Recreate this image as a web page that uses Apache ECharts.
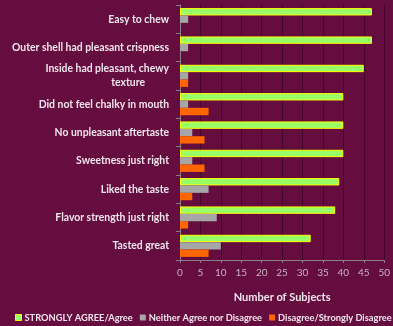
<!DOCTYPE html>
<html><head><meta charset="utf-8">
<script src="https://cdn.jsdelivr.net/npm/echarts@6/dist/echarts.min.js"></script>
<style>html,body{margin:0;padding:0;background:#650D3F;}#c{width:393px;height:326px;}</style>
</head><body><div id="c"></div>
<script>
const categories = ["Easy to chew","Outer shell had pleasant crispness","Inside had pleasant, chewy\ntexture","Did not feel chalky in mouth","No unpleasant aftertaste","Sweetness just right","Liked the taste","Flavor strength just right","Tasted great"];
const agree = [47,47,45,40,40,40,39,38,32];
const neither = [2,2,2,2,3,3,7,9,10];
const disagree = [0,0,2,7,6,6,3,2,7];
const seriesNames = ["STRONGLY AGREE/Agree","Neither Agree nor Disagree","Disagree/Strongly Disagree"];
const xTicks = {min:0,max:50,interval:5};

const chart = echarts.init(document.getElementById('c'));
const font = 'Lato';
chart.setOption({
  backgroundColor:'#650D3F',
  animation:false,
  grid:{left:180,right:7,top:5,bottom:66},
  legend:{
    left:15, top:313, width:900, padding:0, orient:'horizontal', itemWidth:6, itemHeight:6, itemGap:7,
    icon:'rect',
    textStyle:{color:'#F2E6EE',fontFamily:font,fontWeight:'bold',fontSize:9.3,padding:[0,0,0,-2]},
    data:[
      {name:seriesNames[0],itemStyle:{color:'#99FF66',borderColor:'#FFFF00',borderWidth:1}},
      {name:seriesNames[1]},{name:seriesNames[2]}
    ]
  },
  xAxis:{
    type:'value',min:xTicks.min,max:xTicks.max,interval:xTicks.interval,
    name:'Number of Subjects',nameLocation:'middle',nameGap:32,
    nameTextStyle:{color:'#F2E6EE',fontFamily:font,fontWeight:'bold',fontSize:11},
    axisLine:{show:true,lineStyle:{color:'#8C7C86'}},
    axisTick:{show:true,length:3,lineStyle:{color:'#8C7C86'}},
    axisLabel:{color:'#C7B3C0',fontFamily:font,fontSize:10,margin:8},
    splitLine:{show:true,lineStyle:{color:'#42072A',width:1}}
  },
  yAxis:{
    type:'category',data:categories,inverse:true,
    axisLine:{show:true,lineStyle:{color:'#8C7C86'}},
    axisTick:{show:true,length:4,lineStyle:{color:'#8C7C86'}},
    axisLabel:{color:'#F2E6EE',fontFamily:font,fontWeight:'bold',fontSize:10.4,margin:11,lineHeight:14,align:'right',
      formatter:function(v){
        const p=v.split('\n');
        if(p.length===1) return p[0];
        return p[0]+'\n{t|'+p[1]+'}';
      },
      rich:{t:{color:'#F2E6EE',fontFamily:font,fontWeight:'bold',fontSize:10.4,lineHeight:14,padding:[0,24,0,0]}}
    }
  },
  series:[
    {name:seriesNames[0],type:'bar',data:agree,barGap:'0%',barCategoryGap:'22%',
     itemStyle:{color:'#99FF66',borderColor:'#FFFF00',borderWidth:1}},
    {name:seriesNames[1],type:'bar',data:neither,barGap:'0%',barCategoryGap:'22%',
     itemStyle:{color:'#A6A6A6'}},
    {name:seriesNames[2],type:'bar',data:disagree,barGap:'0%',barCategoryGap:'22%',
     itemStyle:{color:'#FF6600'}}
  ]
});
</script></body></html>
